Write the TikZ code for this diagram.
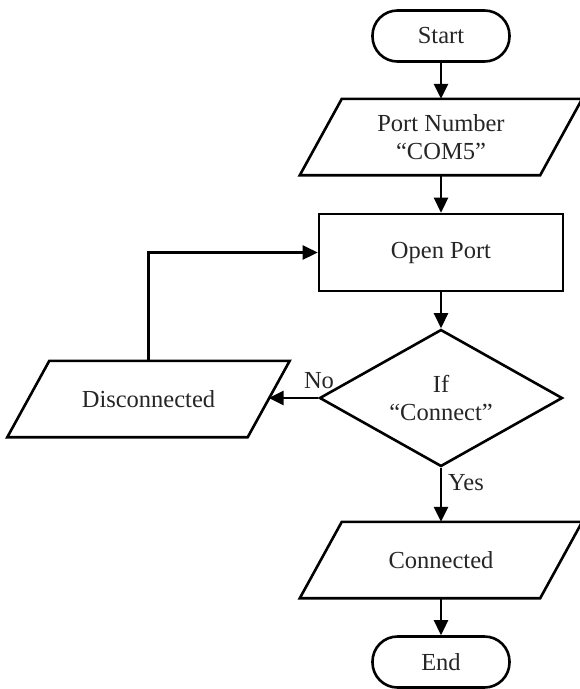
\documentclass[tikz,border=0pt]{standalone}
\usepackage{fontspec}
\setmainfont{Liberation Serif}
\usetikzlibrary{arrows.meta,shapes.geometric}
% outline of an input/output box around a plain rectangular node
\newcommand{\iooutline}[1]{%
  \draw[shapeline] ([xshift=21pt]#1.north west) -- ([xshift=21pt]#1.north east)
    -- ([xshift=-21pt]#1.south east) -- ([xshift=-21pt]#1.south west) -- cycle;}
\begin{document}
\begin{tikzpicture}[x=1pt,y=-1pt,
  every node/.style={font=\fontsize{24.5}{28}\selectfont, text=black!85, align=center, inner sep=0pt},
  shapeline/.style={draw, line width=2.6pt},
  terminal/.style={shapeline, rectangle, rounded corners=25pt, minimum width=137pt, minimum height=51pt},
  io/.style={rectangle, minimum width=240pt, minimum height=76pt},
  process/.style={shapeline, rectangle, minimum width=244pt, minimum height=77pt},
  decision/.style={shapeline, diamond, shape aspect=1.77, minimum width=243pt, minimum height=137pt},
  flow/.style={line width=2.6pt, -{Triangle[length=15pt,width=14pt]}},
  lbl/.style={}
]
\useasboundingbox (0,0) rectangle (580,689);

% nodes
\node[terminal] (start) at (441,36) {Start};
\node[io] (port) at (441,137) {Port Number\\``COM5''};
\node[process] (open) at (441,252.5) {Open Port};
\node[decision] (dec) at (441,398) {If\\``Connect''};
\node[io] (disc) at (148.5,399) {Disconnected};
\node[io] (conn) at (441,560) {Connected};
\node[terminal] (end) at (441,662) {End};
\iooutline{port}
\iooutline{disc}
\iooutline{conn}

% branch labels
\node[lbl] (no) at (319,381) {No};
\node[lbl] (yes) at (466,483) {Yes};

% connectors
\draw[flow] (start) -- (port);
\draw[flow] (port) -- (open);
\draw[flow] (open) -- (dec);
\draw[flow] (dec.west) -- (dec.west -| disc.east);
\draw[flow] (disc.north) |- (open.west);
\draw[flow] (dec.south) -- (conn.north);
\draw[flow] (conn) -- (end);
\end{tikzpicture}
\end{document}
